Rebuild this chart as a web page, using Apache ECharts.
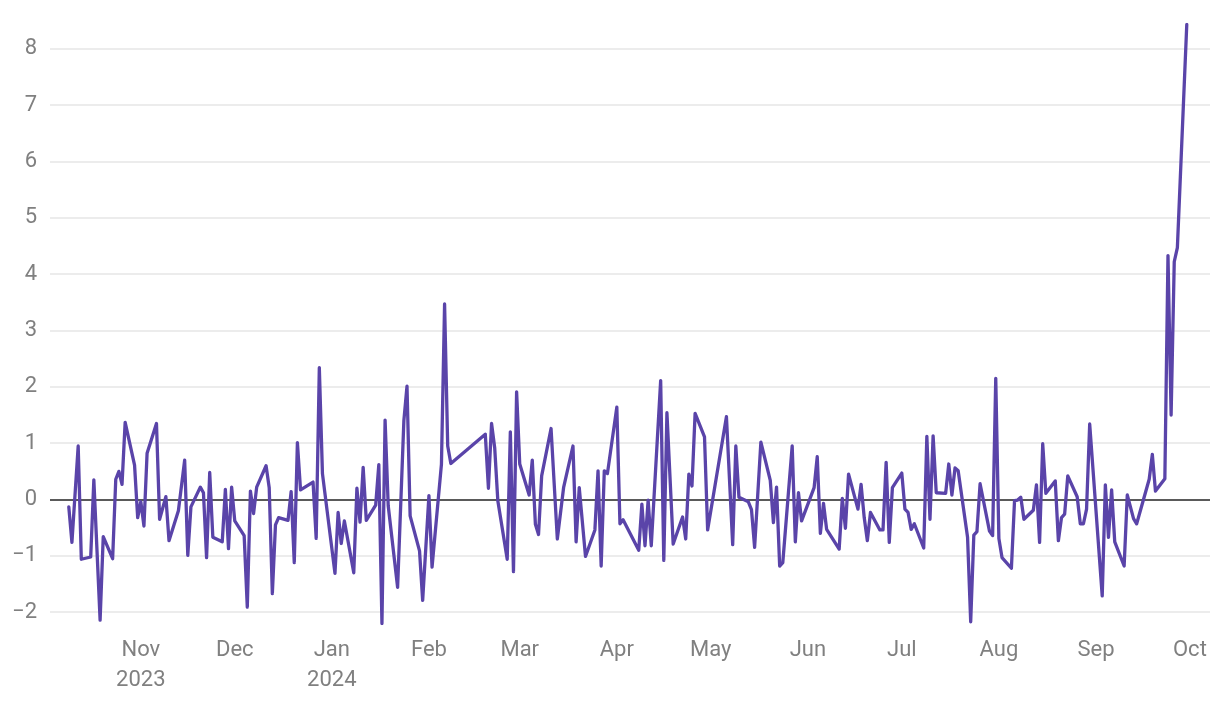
<!DOCTYPE html>
<html>
<head>
<meta charset="utf-8">
<script src="https://cdn.jsdelivr.net/npm/echarts@6/dist/echarts.min.js"></script>
<style>
html,body{margin:0;padding:0;background:#ffffff;}
#chart{width:1220px;height:702px;}
</style>
</head>
<body>
<div id="chart"></div>
<script>
// ---- data ----
const dates = [
  // Oct 2023
  '2023-10-09','2023-10-10','2023-10-12','2023-10-13','2023-10-16','2023-10-17','2023-10-19','2023-10-20',
  '2023-10-23','2023-10-24','2023-10-25','2023-10-26','2023-10-27','2023-10-30','2023-10-31',
  // Nov 2023
  '2023-11-01','2023-11-02','2023-11-03','2023-11-06','2023-11-07','2023-11-09','2023-11-10','2023-11-13',
  '2023-11-15','2023-11-16','2023-11-17','2023-11-20','2023-11-21','2023-11-22','2023-11-23','2023-11-24',
  '2023-11-27','2023-11-28','2023-11-29','2023-11-30',
  // Dec 2023
  '2023-12-01','2023-12-04','2023-12-05','2023-12-06','2023-12-07','2023-12-08','2023-12-11','2023-12-12',
  '2023-12-13','2023-12-14','2023-12-15','2023-12-18','2023-12-19','2023-12-20','2023-12-21','2023-12-22',
  '2023-12-26','2023-12-27','2023-12-28','2023-12-29',
  // Jan 2024
  '2024-01-02','2024-01-03','2024-01-04','2024-01-05','2024-01-08','2024-01-09','2024-01-10','2024-01-11',
  '2024-01-12','2024-01-15','2024-01-16','2024-01-17','2024-01-18','2024-01-19','2024-01-22','2024-01-24',
  '2024-01-25','2024-01-26','2024-01-29','2024-01-30',
  // Feb 2024
  '2024-02-01','2024-02-02','2024-02-05','2024-02-06','2024-02-07','2024-02-08','2024-02-19','2024-02-20',
  '2024-02-21','2024-02-22','2024-02-23','2024-02-26','2024-02-27','2024-02-28','2024-02-29',
  // Mar 2024
  '2024-03-01','2024-03-04','2024-03-05','2024-03-06','2024-03-07','2024-03-08','2024-03-11','2024-03-13',
  '2024-03-15','2024-03-18','2024-03-19','2024-03-20','2024-03-22','2024-03-25','2024-03-26','2024-03-27',
  '2024-03-28','2024-03-29',
  // Apr 2024
  '2024-04-01','2024-04-02','2024-04-03','2024-04-08','2024-04-09','2024-04-10','2024-04-11','2024-04-12',
  '2024-04-15','2024-04-16','2024-04-17','2024-04-19','2024-04-22','2024-04-23','2024-04-24','2024-04-25',
  '2024-04-26','2024-04-29','2024-04-30',
  // May 2024
  '2024-05-06','2024-05-08','2024-05-09','2024-05-10','2024-05-13','2024-05-14','2024-05-15','2024-05-17',
  '2024-05-20','2024-05-21','2024-05-22','2024-05-23','2024-05-24','2024-05-27','2024-05-28','2024-05-29',
  '2024-05-30',
  // Jun 2024
  '2024-06-03','2024-06-04','2024-06-05','2024-06-06','2024-06-07','2024-06-11','2024-06-12','2024-06-13',
  '2024-06-14','2024-06-17','2024-06-18','2024-06-19','2024-06-20','2024-06-21','2024-06-24','2024-06-25',
  '2024-06-26','2024-06-27','2024-06-28',
  // Jul 2024
  '2024-07-01','2024-07-02','2024-07-03','2024-07-04','2024-07-05','2024-07-08','2024-07-09','2024-07-10',
  '2024-07-11','2024-07-12','2024-07-15','2024-07-16','2024-07-17','2024-07-18','2024-07-19','2024-07-22',
  '2024-07-23','2024-07-24','2024-07-25','2024-07-26','2024-07-29','2024-07-30','2024-07-31',
  // Aug 2024
  '2024-08-01','2024-08-02','2024-08-05','2024-08-06','2024-08-07','2024-08-08','2024-08-09','2024-08-12',
  '2024-08-13','2024-08-14','2024-08-15','2024-08-16','2024-08-19','2024-08-20','2024-08-21','2024-08-22',
  '2024-08-23','2024-08-26','2024-08-27','2024-08-28','2024-08-29','2024-08-30',
  // Sep 2024
  '2024-09-03','2024-09-04','2024-09-05','2024-09-06','2024-09-07','2024-09-10','2024-09-11','2024-09-13',
  '2024-09-14','2024-09-18','2024-09-19','2024-09-20','2024-09-23','2024-09-24','2024-09-25','2024-09-26',
  '2024-09-27','2024-09-30'
];

const values = [
  // Oct 2023
  -0.13,-0.76,0.95,-1.06,-1.02,0.35,-2.14,-0.66,
  -1.05,0.36,0.50,0.27,1.37,0.61,-0.32,
  // Nov 2023
  -0.04,-0.47,0.82,1.35,-0.35,0.05,-0.73,-0.20,
  0.70,-0.99,-0.13,0.22,0.12,-1.03,0.48,-0.67,
  -0.75,0.18,-0.87,0.22,
  // Dec 2023
  -0.38,-0.64,-1.91,0.15,-0.25,0.22,0.60,0.21,
  -1.67,-0.45,-0.32,-0.37,0.14,-1.12,1.01,0.17,
  0.31,-0.69,2.34,0.46,
  // Jan 2024
  -1.31,-0.23,-0.78,-0.38,-1.30,0.20,-0.40,0.57,
  -0.37,-0.10,0.62,-2.20,1.41,-0.11,-1.56,1.40,
  2.01,-0.29,-0.91,-1.79,
  // Feb 2024
  0.07,-1.20,0.63,3.47,0.95,0.64,1.16,0.20,
  1.35,0.92,-0.02,-1.06,1.20,-1.28,1.91,
  // Mar 2024
  0.63,0.08,0.70,-0.44,-0.62,0.42,1.26,-0.70,
  0.21,0.95,-0.75,0.21,-1.01,-0.54,0.51,-1.18,
  0.51,0.46,
  // Apr 2024
  1.64,-0.43,-0.36,-0.90,-0.08,-0.82,-0.01,-0.82,
  2.11,-1.08,1.54,-0.79,-0.31,-0.70,0.45,0.24,
  1.53,1.11,-0.54,
  // May 2024
  1.47,-0.80,0.95,0.04,-0.04,-0.18,-0.85,1.02,
  0.34,-0.41,0.22,-1.18,-1.12,0.95,-0.75,0.12,
  -0.38,
  // Jun 2024
  0.21,0.76,-0.60,-0.07,-0.53,-0.88,0.02,-0.51,
  0.45,-0.17,0.27,-0.32,-0.73,-0.23,-0.54,-0.54,
  0.66,-0.76,0.21,
  // Jul 2024
  0.47,-0.17,-0.23,-0.53,-0.43,-0.86,1.12,-0.35,
  1.13,0.12,0.11,0.63,0.08,0.56,0.51,-0.67,
  -2.17,-0.63,-0.57,0.28,-0.56,-0.64,2.15,
  // Aug 2024
  -0.69,-1.03,-1.22,-0.02,-0.01,0.04,-0.35,-0.19,
  0.26,-0.76,0.99,0.11,0.33,-0.73,-0.32,-0.26,
  0.42,0.05,-0.43,-0.43,-0.17,1.34,
  // Sep 2024
  -1.71,0.26,-0.67,0.17,-0.75,-1.18,0.08,-0.34,
  -0.43,0.36,0.80,0.15,0.37,4.33,1.50,4.22,
  4.47,8.43
];

const monthNames = ['Jan','Feb','Mar','Apr','May','Jun','Jul','Aug','Sep','Oct','Nov','Dec'];
const yTickValues = [-2,-1,0,1,2,3,4,5,6,7,8];

// ---- axis range ----
const axisStart = new Date(2023, 9, 3, 0, 0).getTime();
const axisEnd = new Date(2024, 9, 7, 10, 0).getTime();
const sd = new Date(axisStart);
const firstMonthTick = new Date(sd.getFullYear(), sd.getMonth() + (sd.getDate() === 1 ? 0 : 1), 1).getTime();

const seriesData = dates.map((d, i) => [d, values[i]]);

const chart = echarts.init(document.getElementById('chart'), null, {renderer: 'canvas'});
const labelFont = 'Roboto, "Noto Sans", sans-serif';

chart.setOption({
  animation: false,
  backgroundColor: '#ffffff',
  grid: {left: 50, right: 10, top: 24.5, bottom: 78.5, containLabel: false, outerBoundsMode: 'none'},
  xAxis: {
    type: 'time',
    min: axisStart,
    max: axisEnd,
    splitNumber: 12,
    axisLine: {show: false},
    axisTick: {show: false},
    splitLine: {show: false},
    axisLabel: {
      color: '#808080',
      fontFamily: labelFont,
      fontSize: 22,
      lineHeight: 30,
      margin: 11.5,
      hideOverlap: false,
      formatter: function (value) {
        const d = new Date(value);
        if (d.getDate() !== 1 || d.getHours() !== 0 || d.getMinutes() !== 0) return '';
        const m = d.getMonth();
        const name = monthNames[m];
        if (m === 0 || d.getTime() === firstMonthTick) return name + '\n' + d.getFullYear();
        return name;
      }
    }
  },
  yAxis: {
    type: 'value',
    min: 'dataMin',
    max: 'dataMax',
    minInterval: 1,
    maxInterval: 1,
    splitNumber: 10,
    axisLine: {show: false},
    axisTick: {show: false},
    splitLine: {show: true, showMinLine: false, showMaxLine: false, lineStyle: {color: '#e6e6e6', width: 1.5}},
    axisLabel: {
      color: '#808080',
      fontFamily: labelFont,
      fontSize: 22,
      margin: 13,
      showMinLabel: false,
      showMaxLabel: false,
      formatter: function (v) {
        if (yTickValues.indexOf(v) < 0) return '';
        return String(v).replace('-', '\u2212');
      }
    }
  },
  series: [{
    type: 'line',
    data: seriesData,
    showSymbol: false,
    symbol: 'none',
    lineStyle: {color: '#5a44a9', width: 3.3, join: 'round', cap: 'round'},
    itemStyle: {color: '#5a44a9'},
    z: 3,
    markLine: {
      silent: true,
      symbol: 'none',
      label: {show: false},
      lineStyle: {color: '#2a2a2a', width: 1.5, type: 'solid'},
      data: [{yAxis: 0}],
      z: 2
    }
  }]
});
</script>
</body>
</html>
